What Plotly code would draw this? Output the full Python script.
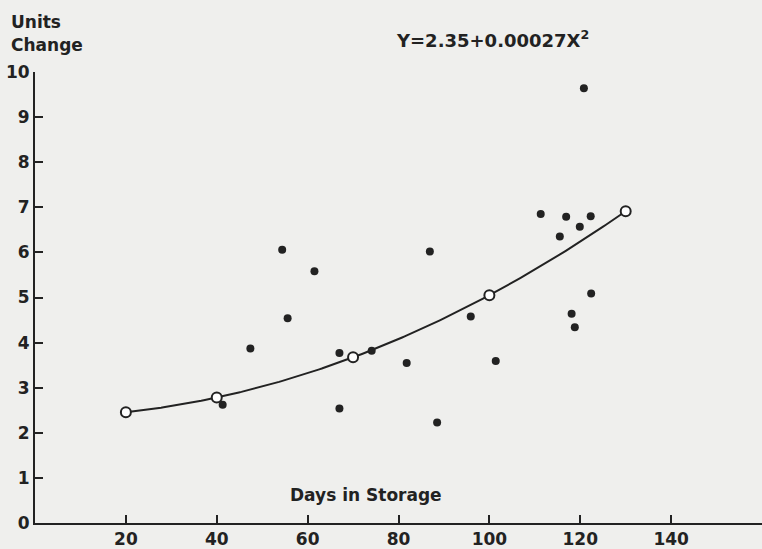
import numpy as np
import plotly.graph_objects as go

# Observed units change vs. days in storage
days = [41.3, 47.4, 54.4, 55.6, 61.5, 67.0, 67.0, 74.1, 81.8, 86.9, 88.5,
        95.9, 101.4, 111.3, 115.5, 116.9, 119.9, 120.8, 122.3, 122.4, 118.1, 118.8]
units = [2.62, 3.87, 6.06, 4.54, 5.58, 3.77, 2.54, 3.82, 3.55, 6.02, 2.23,
         4.58, 3.59, 6.85, 6.35, 6.79, 6.57, 9.64, 6.80, 5.09, 4.64, 4.34]

# Fitted curve Y = a + b * X^2
fit_a = 2.35
fit_b = 0.00027
fit_days = [20, 40, 70, 100, 130]

x_ticks = [20, 40, 60, 80, 100, 120, 140]
y_ticks = list(range(0, 11))

ink = "#222222"
bg = "#efefed"
font_family = "DejaVu Sans, Lato, sans-serif"
label_font = dict(family=font_family, size=17, color=ink, weight="bold")
eq_font = dict(family=font_family, size=18, color=ink, weight="bold")

curve_x = np.linspace(fit_days[0], fit_days[-1], 200)
curve_y = fit_a + fit_b * curve_x ** 2
fit_y = [fit_a + fit_b * d ** 2 for d in fit_days]

fig = go.Figure()
fig.add_trace(go.Scatter(x=curve_x, y=curve_y, mode="lines",
                         line=dict(color=ink, width=2), hoverinfo="skip"))
fig.add_trace(go.Scatter(x=days, y=units, mode="markers",
                         marker=dict(color=ink, size=8, line=dict(width=0))))
fig.add_trace(go.Scatter(x=fit_days, y=fit_y, mode="markers",
                         marker=dict(color="white", size=10,
                                     line=dict(color=ink, width=2))))

plot_w = 762 - 35
plot_h = 549 - 72 - 20

fig.update_layout(
    width=762, height=549,
    margin=dict(l=35, r=0, t=72, b=20),
    paper_bgcolor=bg, plot_bgcolor=bg,
    showlegend=False,
    font=label_font,
    xaxis=dict(range=[0, 160], tickvals=x_ticks, showgrid=False, zeroline=False,
               showline=True, linecolor=ink, linewidth=2,
               ticks="inside", ticklen=8, tickwidth=1.5, tickcolor=ink,
               tickfont=label_font),
    yaxis=dict(range=[0, 10], tickvals=y_ticks, showgrid=False, zeroline=False,
               showline=True, linecolor=ink, linewidth=2,
               ticks="inside", ticklen=8, tickwidth=1.5, tickcolor=ink,
               tickfont=label_font),
    annotations=[
        dict(text="Units", xref="paper", yref="paper", x=-26 / plot_w, y=1 + 51 / plot_h,
             xanchor="left", yanchor="middle", showarrow=False, font=label_font),
        dict(text="Change", xref="paper", yref="paper", x=-26 / plot_w, y=1 + 27 / plot_h,
             xanchor="left", yanchor="middle", showarrow=False, font=label_font),
        dict(text="Days in Storage", x=72.9, y=0.63, xref="x", yref="y",
             xanchor="center", yanchor="middle", showarrow=False, font=label_font),
        dict(text="Y=2.35+0.00027X<sup>2</sup>", xref="paper", yref="paper",
             x=(492 - 35) / plot_w, y=1 + 33 / plot_h,
             xanchor="center", yanchor="middle", showarrow=False, font=eq_font),
    ],
)

fig.write_html("out.html")
